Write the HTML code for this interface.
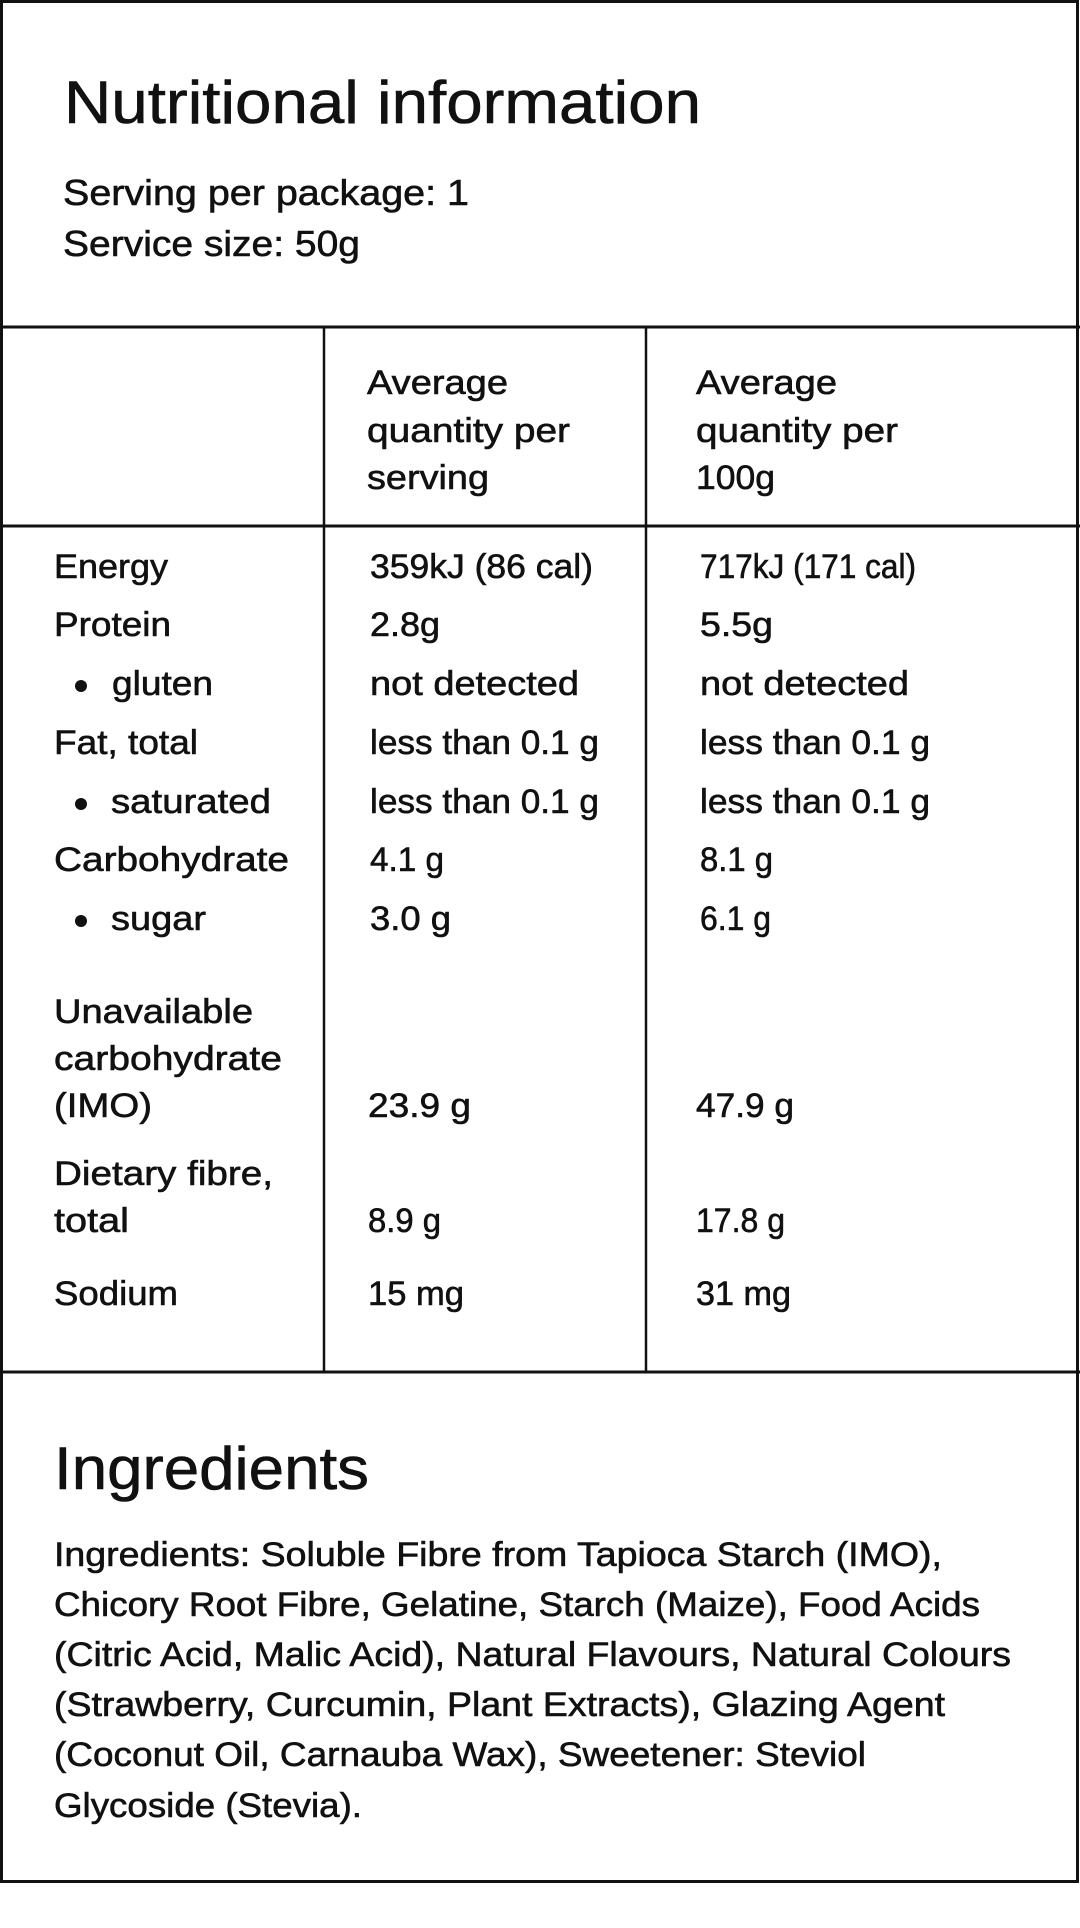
<!DOCTYPE html>
<html><head><meta charset="utf-8"><style>
html,body{margin:0;padding:0;background:#fff}
svg{display:block}
text{font-family:"Liberation Sans",sans-serif;fill:#111;stroke:#111;stroke-width:0.6px}
.r{font-size:34px}
</style></head><body>
<svg width="1080" height="1928" viewBox="0 0 1080 1928" xmlns="http://www.w3.org/2000/svg">
<rect x="0" y="0" width="1080" height="1928" fill="#fff"/>
<rect x="1.5" y="1.5" width="1076" height="1880" fill="none" stroke="#111" stroke-width="3"/>
<line x1="0" y1="327" x2="1080" y2="327" stroke="#111" stroke-width="3"/>
<line x1="0" y1="526" x2="1080" y2="526" stroke="#111" stroke-width="3"/>
<line x1="0" y1="1372" x2="1080" y2="1372" stroke="#111" stroke-width="3"/>
<line x1="324" y1="327" x2="324" y2="1372" stroke="#111" stroke-width="2.5"/>
<line x1="646" y1="327" x2="646" y2="1372" stroke="#111" stroke-width="2.5"/>

<text x="64" y="123" font-size="60" textLength="637" lengthAdjust="spacingAndGlyphs">Nutritional information</text>
<text x="63" y="205" font-size="36" textLength="406" lengthAdjust="spacingAndGlyphs">Serving per package: 1</text>
<text x="63" y="256" font-size="36" textLength="297" lengthAdjust="spacingAndGlyphs">Service size: 50g</text>

<g class="r">
<text x="367" y="394" textLength="141" lengthAdjust="spacingAndGlyphs">Average</text>
<text x="367" y="442" textLength="203" lengthAdjust="spacingAndGlyphs">quantity per</text>
<text x="367" y="489" textLength="122" lengthAdjust="spacingAndGlyphs">serving</text>
<text x="696" y="394" textLength="141" lengthAdjust="spacingAndGlyphs">Average</text>
<text x="696" y="442" textLength="202" lengthAdjust="spacingAndGlyphs">quantity per</text>
<text x="696" y="489" textLength="79" lengthAdjust="spacingAndGlyphs">100g</text>

<text x="54" y="578" textLength="114" lengthAdjust="spacingAndGlyphs">Energy</text>
<text x="54" y="636" textLength="117" lengthAdjust="spacingAndGlyphs">Protein</text>
<circle cx="81" cy="686" r="6" fill="#111"/>
<text x="112" y="695" textLength="101" lengthAdjust="spacingAndGlyphs">gluten</text>
<text x="54" y="754" textLength="144" lengthAdjust="spacingAndGlyphs">Fat, total</text>
<circle cx="81" cy="804" r="6" fill="#111"/>
<text x="111" y="813" textLength="160" lengthAdjust="spacingAndGlyphs">saturated</text>
<text x="54" y="871" textLength="235" lengthAdjust="spacingAndGlyphs">Carbohydrate</text>
<circle cx="81" cy="921" r="6" fill="#111"/>
<text x="111" y="930" textLength="95" lengthAdjust="spacingAndGlyphs">sugar</text>
<text x="54" y="1023" textLength="199" lengthAdjust="spacingAndGlyphs">Unavailable</text>
<text x="54" y="1070" textLength="228" lengthAdjust="spacingAndGlyphs">carbohydrate</text>
<text x="54" y="1117" textLength="98" lengthAdjust="spacingAndGlyphs">(IMO)</text>
<text x="54" y="1185" textLength="219" lengthAdjust="spacingAndGlyphs">Dietary fibre,</text>
<text x="54" y="1232" textLength="75" lengthAdjust="spacingAndGlyphs">total</text>
<text x="54" y="1305" textLength="124" lengthAdjust="spacingAndGlyphs">Sodium</text>

<text x="370" y="578" textLength="223" lengthAdjust="spacingAndGlyphs">359kJ (86 cal)</text>
<text x="370" y="636" textLength="70" lengthAdjust="spacingAndGlyphs">2.8g</text>
<text x="370" y="695" textLength="209" lengthAdjust="spacingAndGlyphs">not detected</text>
<text x="370" y="754" textLength="229" lengthAdjust="spacingAndGlyphs">less than 0.1 g</text>
<text x="370" y="813" textLength="229" lengthAdjust="spacingAndGlyphs">less than 0.1 g</text>
<text x="370" y="871" textLength="74" lengthAdjust="spacingAndGlyphs">4.1 g</text>
<text x="370" y="930" textLength="81" lengthAdjust="spacingAndGlyphs">3.0 g</text>
<text x="368" y="1117" textLength="103" lengthAdjust="spacingAndGlyphs">23.9 g</text>
<text x="368" y="1232" textLength="73" lengthAdjust="spacingAndGlyphs">8.9 g</text>
<text x="368" y="1305" textLength="96" lengthAdjust="spacingAndGlyphs">15 mg</text>

<text x="700" y="578" textLength="216" lengthAdjust="spacingAndGlyphs">717kJ (171 cal)</text>
<text x="700" y="636" textLength="73" lengthAdjust="spacingAndGlyphs">5.5g</text>
<text x="700" y="695" textLength="209" lengthAdjust="spacingAndGlyphs">not detected</text>
<text x="700" y="754" textLength="230" lengthAdjust="spacingAndGlyphs">less than 0.1 g</text>
<text x="700" y="813" textLength="230" lengthAdjust="spacingAndGlyphs">less than 0.1 g</text>
<text x="700" y="871" textLength="73" lengthAdjust="spacingAndGlyphs">8.1 g</text>
<text x="700" y="930" textLength="71" lengthAdjust="spacingAndGlyphs">6.1 g</text>
<text x="696" y="1117" textLength="98" lengthAdjust="spacingAndGlyphs">47.9 g</text>
<text x="696" y="1232" textLength="89" lengthAdjust="spacingAndGlyphs">17.8 g</text>
<text x="696" y="1305" textLength="95" lengthAdjust="spacingAndGlyphs">31 mg</text>
</g>

<text x="54" y="1489" font-size="60" textLength="315" lengthAdjust="spacingAndGlyphs">Ingredients</text>
<g class="r">
<text x="54" y="1566" textLength="888" lengthAdjust="spacingAndGlyphs">Ingredients: Soluble Fibre from Tapioca Starch (IMO),</text>
<text x="54" y="1616" textLength="926" lengthAdjust="spacingAndGlyphs">Chicory Root Fibre, Gelatine, Starch (Maize), Food Acids</text>
<text x="54" y="1666" textLength="957" lengthAdjust="spacingAndGlyphs">(Citric Acid, Malic Acid), Natural Flavours, Natural Colours</text>
<text x="54" y="1716" textLength="891" lengthAdjust="spacingAndGlyphs">(Strawberry, Curcumin, Plant Extracts), Glazing Agent</text>
<text x="54" y="1766" textLength="812" lengthAdjust="spacingAndGlyphs">(Coconut Oil, Carnauba Wax), Sweetener: Steviol</text>
<text x="54" y="1817" textLength="308" lengthAdjust="spacingAndGlyphs">Glycoside (Stevia).</text>
</g>
</svg>
</body></html>
